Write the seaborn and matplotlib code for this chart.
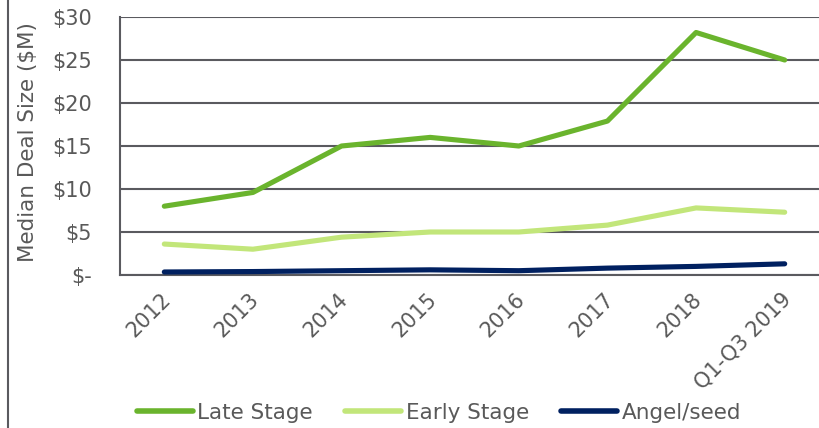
import matplotlib
matplotlib.use("Agg")
import matplotlib.pyplot as plt
import matplotlib.transforms as mtransforms
import seaborn as sns
import pandas as pd
from matplotlib.lines import Line2D

categories = ["2012", "2013", "2014", "2015", "2016", "2017", "2018", "Q1-Q3 2019"]
late_stage = [8.0, 9.6, 15.0, 16.0, 15.0, 17.9, 28.2, 25.0]
early_stage = [3.6, 3.0, 4.4, 5.0, 5.0, 5.8, 7.8, 7.3]
angel_seed = [0.35, 0.4, 0.5, 0.6, 0.5, 0.8, 1.0, 1.3]
series_names = ["Late Stage", "Early Stage", "Angel/seed"]
y_ticks = [0, 5, 10, 15, 20, 25, 30]
y_tick_labels = ["$-", "$5", "$10", "$15", "$20", "$25", "$30"]

colors = {"Late Stage": "#6AB42D", "Early Stage": "#C2E67A", "Angel/seed": "#002060"}
text_color = "#595959"
grid_color = "#5a5a5f"

rows = []
for name, vals in zip(series_names, [late_stage, early_stage, angel_seed]):
    for i, (c, v) in enumerate(zip(categories, vals)):
        rows.append({"pos": i, "category": c, "series": name, "value": v})
df = pd.DataFrame(rows)

sns.set_theme(style="white")
plt.rcParams["font.family"] = ["DejaVu Sans"]

fig = plt.figure(figsize=(8.19, 4.28), dpi=100)
ax = fig.add_axes([120 / 819, 1 - 275 / 428, 709 / 819, 258 / 428])

sns.lineplot(data=df, x="pos", y="value", hue="series", hue_order=series_names,
             palette=colors, linewidth=3.7, sort=False, legend=False, ax=ax,
             solid_capstyle="round", zorder=3)

ax.set_xlim(-0.5, 7.5)
ax.set_ylim(0, 30)
ax.set_yticks(y_ticks)
ax.set_yticklabels(y_tick_labels)
ax.yaxis.grid(True, color=grid_color, linewidth=1.5)
ax.set_axisbelow(True)
ax.tick_params(axis="y", length=0, pad=20, labelsize=15, labelcolor=text_color)

ax.set_xticks([i - 0.5 for i in range(len(categories) + 1)])
ax.set_xticklabels([])
ax.set_xticks(list(range(len(categories))), minor=True)
ax.set_xticklabels(categories, minor=True, rotation=45, ha="right",
                   rotation_mode="anchor", fontsize=15, color=text_color)
ax.tick_params(axis="x", which="major", length=7, width=1.5, color=grid_color, direction="out")
ax.tick_params(axis="x", which="minor", length=0, pad=10)
offset = mtransforms.ScaledTranslation(-4 / 100, 0, fig.dpi_scale_trans)
for lab in ax.get_xticklabels(minor=True):
    lab.set_transform(lab.get_transform() + offset)

for s in ["top", "right"]:
    ax.spines[s].set_visible(False)
ax.spines["left"].set_color(grid_color)
ax.spines["left"].set_linewidth(1.5)
ax.spines["bottom"].set_color(grid_color)
ax.spines["bottom"].set_linewidth(1.5)

ax.set_xlabel("")
ax.set_ylabel("Median Deal Size ($M)", fontsize=15.5, color=text_color)
ax.yaxis.set_label_coords(-0.115, 0.515)

handles = [Line2D([0], [0], color=colors[n], linewidth=4, solid_capstyle="round") for n in series_names]
fig.legend(handles, series_names, loc="center", bbox_to_anchor=(0.536, 0.035), ncol=3,
           frameon=False, fontsize=15.5, handlelength=2.6, handletextpad=0.2,
           columnspacing=1.5, labelcolor=text_color)

fig.add_artist(Line2D([8 / 819, 8 / 819], [0, 1], transform=fig.transFigure,
                      color=grid_color, linewidth=1.5))

fig.savefig("out.png", dpi=100)
